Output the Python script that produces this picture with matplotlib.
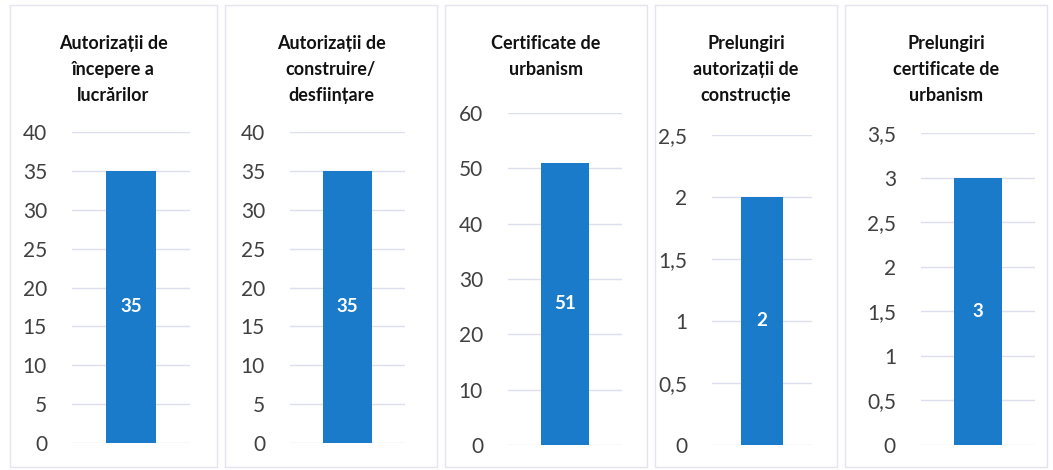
import matplotlib
matplotlib.use("Agg")
import matplotlib.pyplot as plt
from matplotlib.patches import Rectangle
from matplotlib.ticker import FuncFormatter

titles = [
    "Autorizații de\nîncepere a\nlucrărilor",
    "Autorizații de\nconstruire/\ndesființare",
    "Certificate de\nurbanism",
    "Prelungiri\nautorizații de\nconstrucție",
    "Prelungiri\ncertificate de\nurbanism",
]
values = [35, 35, 51, 2, 3]
y_max = [40, 40, 60, 2.5, 3.5]
y_step = [5, 5, 10, 0.5, 0.5]

W, H = 1053, 470
fig = plt.figure(figsize=(W / 100, H / 100), dpi=100)
fig.patch.set_facecolor("white")
plt.rcParams["font.family"] = ["Lato", "DejaVu Sans"]

frames = [(10, 217), (225, 437), (445, 647), (655, 837), (845, 1047)]
axes_px = [(72, 190, 132, 443), (290, 405, 132, 443), (508, 622, 113, 445),
           (712, 812, 135, 445), (921, 1035, 133, 445)]
bar_color = "#1B7BCB"
grid_color = "#DCE0EE"
text_color = "#404040"

for (fl, fr) in frames:
    fig.patches.append(Rectangle((fl / W, 1 - 467 / H), (fr - fl) / W, (467 - 5) / H,
                                 transform=fig.transFigure, fill=False,
                                 edgecolor="#E2E4EE", linewidth=1.0))

def fmt(v, pos):
    return ("%g" % v).replace(".", ",")

for i in range(5):
    l, r, t, b = axes_px[i]
    ax = fig.add_axes([l / W, 1 - b / H, (r - l) / W, (b - t) / H])
    ax.bar([0], [values[i]], width=0.42, color=bar_color, zorder=3)
    ax.set_xlim(-0.5, 0.5)
    ax.set_ylim(0, y_max[i])
    ticks = [k * y_step[i] for k in range(int(round(y_max[i] / y_step[i])) + 1)]
    ax.set_yticks(ticks)
    ax.yaxis.set_major_formatter(FuncFormatter(fmt))
    ax.set_xticks([])
    ax.grid(axis="y", color=grid_color, linewidth=1.0, zorder=0)
    for s in ax.spines.values():
        s.set_visible(False)
    ax.tick_params(axis="y", length=0, pad=18, labelsize=15, labelcolor=text_color)
    ax.set_facecolor("none")
    ax.text(0, values[i] / 2, str(values[i]), ha="center", va="center",
            color="white", fontsize=13.5, fontweight="bold", zorder=4)
    cx = (frames[i][0] + frames[i][1]) / 2
    fig.text(cx / W, 1 - 35 / H, titles[i], ha="center", va="top",
             fontsize=13, fontweight="bold", color="#111111", linespacing=1.65)

fig.savefig("out.png", dpi=100, facecolor="white")
